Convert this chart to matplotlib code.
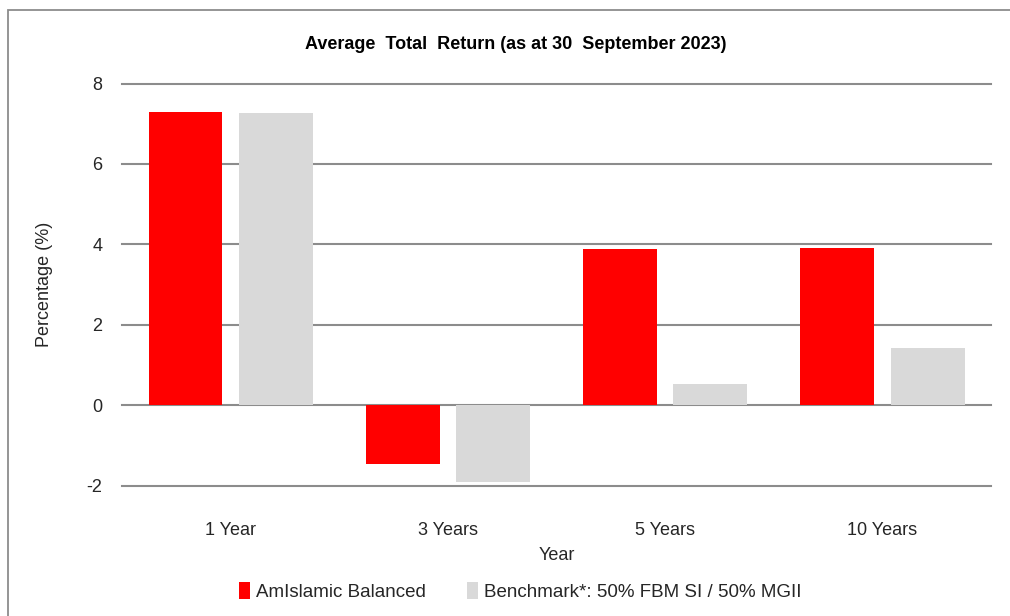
import numpy as np
import matplotlib
matplotlib.use("Agg")
import matplotlib.pyplot as plt
from matplotlib.patches import Rectangle

plt.rcParams['font.family'] = ['Liberation Sans', 'DejaVu Sans']
plt.rcParams['axes.unicode_minus'] = False

# data
periods = ['1 Year', '3 Years', '5 Years', '10 Years']
fund = [7.30, -1.46, 3.89, 3.91]
bench = [7.27, -1.90, 0.53, 1.42]
fund_name = 'AmIslamic Balanced'
bench_name = 'Benchmark*: 50% FBM SI / 50% MGII'

fig = plt.figure(figsize=(10.10, 6.16), dpi=100)
ax = fig.add_axes([0.1208, 0.2115, 0.8604, 0.6529])

x = np.arange(len(periods))
w = 0.34
off = 0.208
ax.bar(x - off, fund, w, color='#ff0000', label=fund_name, zorder=3)
ax.bar(x + off, bench, w, color='#d9d9d9', label=bench_name, zorder=3)

ax.set_xlim(-0.5, len(periods) - 0.5)
ax.set_ylim(-2, 8)
ax.set_yticks([-2, 0, 2, 4, 6, 8])
ax.set_xticks(x)
ax.set_xticklabels(periods)
ax.yaxis.grid(True, color='#8c8c8c', linewidth=1.5, zorder=0)
ax.set_axisbelow(True)
for gl in ax.get_ygridlines():
    gl.set_clip_on(False)
for s in ax.spines.values():
    s.set_visible(False)
ax.tick_params(axis='both', length=0, labelsize=13, colors='#262626')
ax.tick_params(axis='y', pad=14)
ax.tick_params(axis='x', pad=26)

ax.set_xlabel('Year', fontsize=13, color='#262626', labelpad=6)
ax.set_ylabel('Percentage (%)', fontsize=13, color='#262626', labelpad=24)

fig.text(0.511, 0.928, 'Average  Total  Return (as at 30  September 2023)',
         ha='center', va='center', fontsize=13, fontweight='bold', color='black')

fig.legend(loc='center', bbox_to_anchor=(0.515, 0.040), ncol=2, frameon=False,
           fontsize=13.5, handlelength=0.6, handleheight=1.0, handletextpad=0.3,
           columnspacing=2.2, labelcolor='#262626')

# outer border (cut off at right and bottom in the reference)
fig.patches.append(Rectangle((8 / 1010, -0.1), 1.2, 1.1 - 11 / 616 + 0.001,
                             transform=fig.transFigure, fill=False,
                             edgecolor='#8c8c8c', linewidth=1.3))

fig.savefig('out.png', dpi=100)
